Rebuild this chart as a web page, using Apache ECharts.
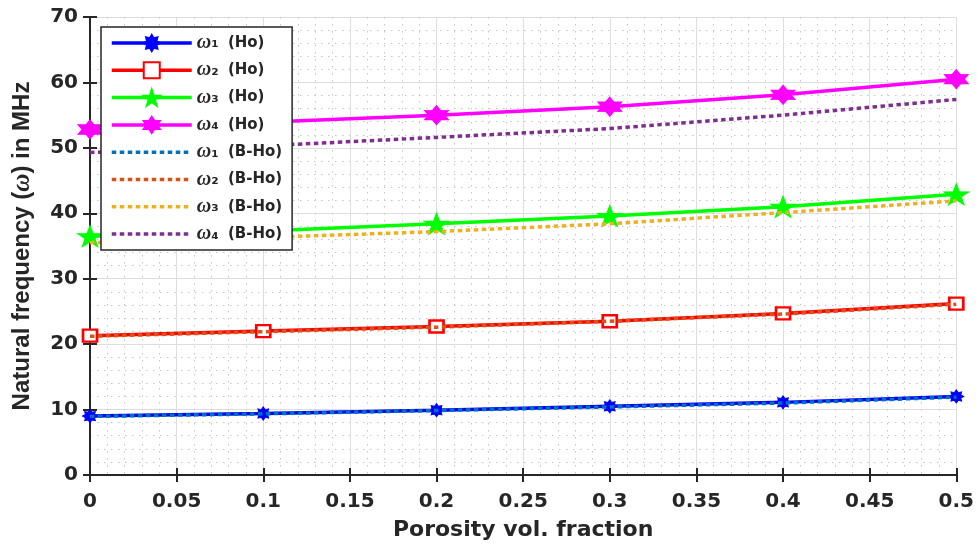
<!DOCTYPE html>
<html>
<head>
<meta charset="utf-8">
<script src="https://cdn.jsdelivr.net/npm/echarts@6/dist/echarts.min.js"></script>
<style>html,body{margin:0;padding:0;background:#fff;}#c{width:977px;height:547px;}</style>
</head>
<body>
<div id="c"></div>
<script>
const porosity = [0, 0.1, 0.2, 0.3, 0.4, 0.5];
const w1Ho = [9.0, 9.4, 9.9, 10.5, 11.1, 12.0];
const w2Ho = [21.3, 22.0, 22.7, 23.5, 24.7, 26.2];
const w3Ho = [36.5, 37.3, 38.4, 39.6, 41.0, 42.9];
const w4Ho = [52.8, 53.9, 55.0, 56.3, 58.1, 60.5];
const w1BHo = [8.95, 9.35, 9.85, 10.4, 11.0, 11.9];
const w2BHo = [21.2, 21.9, 22.6, 23.5, 24.6, 26.1];
const w3BHo = [35.5, 36.3, 37.2, 38.4, 40.1, 41.9];
const w4BHo = [49.3, 50.3, 51.6, 52.95, 55.0, 57.4];
const xTicks = ['0','0.05','0.1','0.15','0.2','0.25','0.3','0.35','0.4','0.45','0.5'];
const yTicks = ['0','10','20','30','40','50','60','70'];

function pts(v){ return porosity.map((x,i)=>[x, v[i]]); }
function star(n, r1, r2){
  let d = '';
  for (let i=0;i<2*n;i++){
    const r = i%2===0 ? r1 : r2;
    const a = -Math.PI/2 + i*Math.PI/n;
    d += (i===0?'M':'L') + (r*Math.cos(a)).toFixed(2) + ',' + (r*Math.sin(a)).toFixed(2) + ' ';
  }
  return 'path://' + d + 'Z';
}
const asterisk = star(8, 10, 6.5);
const pentagram = star(5, 10, 3.9);
const hexagram = 'path://M0,-10 L8.66,5 L-8.66,5 Z M0,10 L-8.66,-5 L8.66,-5 Z';

const txt = '#262626';
const sans = 'DejaVu Sans';
function hoSeries(name, data, color, symbol, size, hollow){
  return {
    name, type:'line', data: pts(data), symbol, symbolSize: size,
    showAllSymbol: true, z: 2,
    lineStyle:{color, width:3.5},
    itemStyle: hollow ? {color:'#ffffff', borderColor:color, borderWidth:2.5} : {color, borderColor:color, borderWidth:1},
    emphasis:{disabled:true}
  };
}
function bSeries(name, data, color){
  return {
    name, type:'line', data: pts(data), symbol:'circle', symbolSize:1, showSymbol:false, z: 3,
    lineStyle:{color, width:3.5, type:[4.5,3.5], cap:'butt'},
    itemStyle:{color, opacity:0},
    emphasis:{disabled:true}
  };
}
const names = ['w1Ho','w2Ho','w3Ho','w4Ho','w1B','w2B','w3B','w4B'];
const legendText = {
  w1Ho:'{w|ω}{s|₁} (Ho)', w2Ho:'{w|ω}{s|₂} (Ho)', w3Ho:'{w|ω}{s|₃} (Ho)', w4Ho:'{w|ω}{s|₄} (Ho)',
  w1B:'{w|ω}{s|₁} (B-Ho)', w2B:'{w|ω}{s|₂} (B-Ho)', w3B:'{w|ω}{s|₃} (B-Ho)', w4B:'{w|ω}{s|₄} (B-Ho)'
};

const chart = echarts.init(document.getElementById('c'), null, {renderer:'canvas'});
chart.setOption({
  animation:false,
  backgroundColor:'#ffffff',
  grid:{left:90, right:19, top:17, bottom:72, containLabel:false},
  legend:{
    left:101, top:27, width:191, orient:'vertical',
    padding:[6,10,6,9], itemGap:7.3, itemWidth:80, itemHeight:20,
    backgroundColor:'#ffffff', borderColor:'#262626', borderWidth:1.5,
    data: names,
    formatter: n => legendText[n],
    lineStyle:{width:3.5},
    textStyle:{
      color:txt, fontFamily:sans, fontWeight:'bold', fontSize:15,
      rich:{
        w:{fontFamily:'Liberation Serif', fontStyle:'italic', fontWeight:'bold', fontSize:20, color:txt},
        s:{fontFamily:sans, fontWeight:'bold', fontSize:17, color:txt, padding:[0,4,0,0]}
      }
    }
  },
  xAxis:[{
    type:'value', min:0, max:0.5, interval:0.05,
    name:'Porosity vol. fraction', nameLocation:'middle', nameGap:44,
    nameTextStyle:{color:txt, fontFamily:sans, fontWeight:'bold', fontSize:22},
    axisLine:{show:true, onZero:false, lineStyle:{color:txt, width:2}},
    axisTick:{show:true, inside:true, length:7, lineStyle:{color:txt, width:2}},
    minorTick:{show:false, splitNumber:5},
    axisLabel:{color:txt, fontFamily:sans, fontWeight:'bold', fontSize:20, margin:17,
      formatter:(v)=>xTicks[Math.round(v/0.05)]},
    splitLine:{show:true, lineStyle:{color:'#dedede', width:1}},
    minorSplitLine:{show:true, lineStyle:{color:'#c6c6c6', width:1, type:[1.5,5.5]}}
  },{
    type:'value', position:'top', min:0, max:0.5, interval:0.05,
    axisLine:{show:true, lineStyle:{color:txt, width:2}},
    axisTick:{show:true, inside:true, length:7, lineStyle:{color:txt, width:2}},
    axisLabel:{show:false}, splitLine:{show:false}
  }],
  yAxis:[{
    type:'value', min:0, max:70, interval:10,
    name:'Natural frequency ({i|ω}) in MHz', nameLocation:'middle', nameGap:55,
    nameTextStyle:{color:txt, fontFamily:'Liberation Sans', fontWeight:'bold', fontSize:24,
      rich:{i:{fontFamily:'Liberation Serif', fontStyle:'italic', fontSize:25, color:txt}}},
    axisLine:{show:true, onZero:false, lineStyle:{color:txt, width:2}},
    axisTick:{show:true, inside:true, length:7, lineStyle:{color:txt, width:2}},
    minorTick:{show:false, splitNumber:5},
    axisLabel:{color:txt, fontFamily:sans, fontWeight:'bold', fontSize:20, margin:12,
      formatter:(v)=>yTicks[Math.round(v/10)]},
    splitLine:{show:true, lineStyle:{color:'#dedede', width:1}},
    minorSplitLine:{show:true, lineStyle:{color:'#c6c6c6', width:1, type:[1.5,5.5]}}
  },{
    type:'value', position:'right', min:0, max:70, interval:10,
    axisLine:{show:true, lineStyle:{color:txt, width:2}},
    axisTick:{show:true, inside:true, length:7, lineStyle:{color:txt, width:2}},
    axisLabel:{show:false}, splitLine:{show:false}
  }],
  series:[
    hoSeries('w1Ho', w1Ho, '#0000ff', asterisk, [15,13], false),
    hoSeries('w2Ho', w2Ho, '#ff0000', 'rect', [14,12], true),
    hoSeries('w3Ho', w3Ho, '#00ff00', pentagram, [25,21], false),
    hoSeries('w4Ho', w4Ho, '#ff00ff', hexagram, [24,19], false),
    bSeries('w1B', w1BHo, '#0072bd'),
    bSeries('w2B', w2BHo, '#d95319'),
    bSeries('w3B', w3BHo, '#edb120'),
    bSeries('w4B', w4BHo, '#7e2f8e')
  ]
});
</script>
</body>
</html>
